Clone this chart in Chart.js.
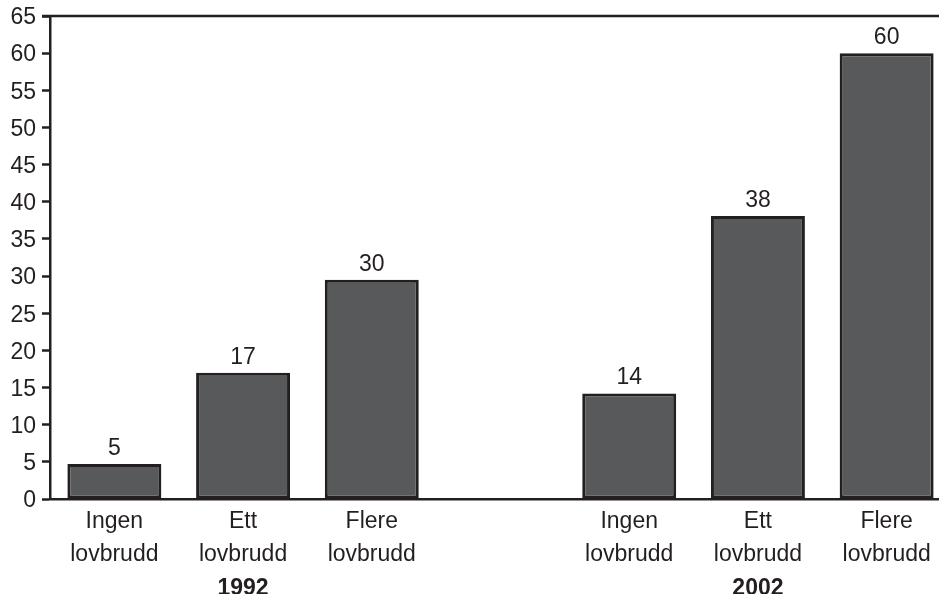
<!DOCTYPE html>
<html>
<head>
<meta charset="utf-8">
<script src="https://cdn.jsdelivr.net/npm/chart.js@4.4.0/dist/chart.umd.min.js"></script>
<style>
  html, body { margin: 0; padding: 0; background: #ffffff; overflow: hidden; }
  #wrap { width: 960px; height: 594px; position: relative; }
</style>
</head>
<body>
<div id="wrap"><canvas id="c" width="960" height="594"></canvas></div>
<script>
// ---- data ----
const categories = [
  ['Ingen', 'lovbrudd'], ['Ett', 'lovbrudd'], ['Flere', 'lovbrudd'],
  '',
  ['Ingen', 'lovbrudd'], ['Ett', 'lovbrudd'], ['Flere', 'lovbrudd']
];
const yearLabels = ['', '1992', '', '', '', '2002', ''];
const values = [4.7, 17, 29.5, null, 14.2, 38.1, 60];
const valueLabels = ['5', '17', '30', '', '14', '38', '60'];
const yTicks = [0, 5, 10, 15, 20, 25, 30, 35, 40, 45, 50, 55, 60, 65];

const INK = '#231f20';
const FONT = "'Liberation Sans', Arial, Helvetica, sans-serif";

const valueLabelPlugin = {
  id: 'valueLabels',
  afterDatasetsDraw(chart) {
    const ctx = chart.ctx;
    const meta = chart.getDatasetMeta(0);
    ctx.save();
    ctx.fillStyle = INK;
    ctx.font = '23px ' + FONT;
    ctx.textAlign = 'center';
    ctx.textBaseline = 'alphabetic';
    meta.data.forEach((bar, i) => {
      const t = valueLabels[i];
      if (!t || values[i] == null) return;
      ctx.fillText(t, bar.x, bar.y - 9);
    });
    ctx.restore();
  }
};

const topLinePlugin = {
  id: 'topLine',
  afterDraw(chart) {
    const { ctx, chartArea } = chart;
    ctx.save();
    ctx.strokeStyle = INK;
    ctx.lineWidth = 2.5;
    ctx.beginPath();
    ctx.moveTo(chartArea.left - 8, chartArea.top);
    ctx.lineTo(chart.width, chartArea.top);
    ctx.stroke();
    ctx.restore();
  }
};

new Chart(document.getElementById('c'), {
  type: 'bar',
  data: {
    labels: categories,
    datasets: [{
      data: values,
      backgroundColor: '#58595b',
      borderColor: INK,
      borderWidth: 3,
      borderSkipped: false,
      categoryPercentage: 1.0,
      barPercentage: 0.73
    }]
  },
  options: {
    responsive: false,
    devicePixelRatio: 1,
    animation: false,
    layout: { padding: { top: 16, right: 9, left: 0, bottom: 0 } },
    plugins: { legend: { display: false }, tooltip: { enabled: false } },
    scales: {
      x: {
        position: 'bottom',
        grid: { display: true, drawOnChartArea: false, drawTicks: false, color: INK },
        border: { display: true, color: INK, width: 2.5, z: 1 },
        ticks: { color: INK, font: { family: FONT, size: 23, lineHeight: 1.4 }, padding: 7, maxRotation: 0, autoSkip: false },
        afterFit(scale) { scale.height = 64; scale.paddingLeft = 0; scale.paddingRight = 0; }
      },
      x2: {
        type: 'category',
        position: 'bottom',
        labels: yearLabels,
        grid: { display: false },
        border: { display: false },
        ticks: { color: INK, font: { family: FONT, size: 23, weight: 'bold', lineHeight: 1.35 }, padding: 2, maxRotation: 0, autoSkip: false },
        afterFit(scale) { scale.height = 31; scale.paddingLeft = 0; scale.paddingRight = 0; }
      },
      y: {
        min: 0,
        max: 65,
        afterBuildTicks(scale) { scale.ticks = yTicks.map(v => ({ value: v })); },
        grid: { display: true, drawOnChartArea: false, drawTicks: true, tickLength: 8, tickWidth: 2.5, tickColor: INK },
        border: { display: true, color: INK, width: 2.5 },
        ticks: { color: INK, font: { family: FONT, size: 23 }, padding: 6, labelOffset: 2 },
        afterFit(scale) { scale.width = 50; scale.paddingTop = 0; scale.paddingBottom = 0; }
      }
    }
  },
  plugins: [valueLabelPlugin, topLinePlugin]
});
</script>
</body>
</html>
